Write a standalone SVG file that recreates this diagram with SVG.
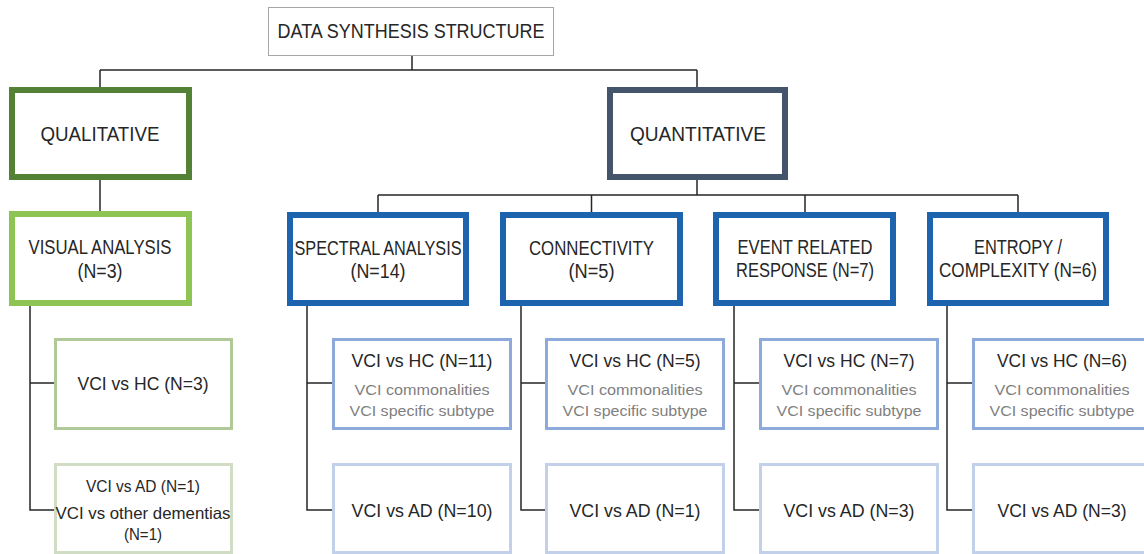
<svg xmlns="http://www.w3.org/2000/svg" width="1144" height="554" viewBox="0 0 1144 554">
<style>
text{font-family:"Liberation Sans",Arial,sans-serif;fill:#262626;text-anchor:middle}
.t1{font-size:20px}
.t2{font-size:18px}
.t3{font-size:15px;fill:#7f7f7f}
.t4{font-size:16.5px}
.con{fill:none;stroke:#262626;stroke-width:1.5}
rect{fill:#fff}
.top{stroke:#a6a6a6;stroke-width:1}
.qual{stroke:#538135;stroke-width:6}
.quant{stroke:#44546a;stroke-width:6}
.vis{stroke:#8dc453;stroke-width:6}
.blue{stroke:#1d63ad;stroke-width:6}
.ghc{stroke:#b0c998;stroke-width:3}
.gad{stroke:#d0dcc4;stroke-width:3}
.bhc{stroke:#8eaadb;stroke-width:3}
.bad{stroke:#c2d0e9;stroke-width:3}
</style>
<g id="connectors">
<path class="con" d="M412 55V70M100 70H697M100 70V87M697 70V87"/>
<path class="con" d="M100 180V211"/>
<path class="con" d="M697 180V195M378 195H1018M378 195V212M591.5 195V212M805 195V212M1018 195V212"/>
<path class="con" d="M30 306V510H54M30 383H54"/>
<path class="con" d="M307 306V510H332M307 383H332"/>
<path class="con" d="M521 306V510H545M521 383H545"/>
<path class="con" d="M734 306V510H759M734 383H759"/>
<path class="con" d="M947 306V510H972M947 383H972"/>
</g>
<g id="title"><rect class="top" x="268.5" y="7.5" width="285" height="48"/><text class="t1" x="411" y="38" textLength="267" lengthAdjust="spacingAndGlyphs">DATA SYNTHESIS STRUCTURE</text></g>
<g id="qualitative"><rect class="qual" x="12" y="90" width="177" height="87"/><text class="t1" x="100" y="141" textLength="119" lengthAdjust="spacingAndGlyphs">QUALITATIVE</text></g>
<g id="quantitative"><rect class="quant" x="610" y="90" width="175" height="87"/><text class="t1" x="698" y="141" textLength="136" lengthAdjust="spacingAndGlyphs">QUANTITATIVE</text></g>
<g id="visual"><rect class="vis" x="12" y="214" width="177" height="89"/><text class="t1" x="100" y="254" textLength="143" lengthAdjust="spacingAndGlyphs">VISUAL ANALYSIS</text><text class="t1" x="100" y="278" textLength="45" lengthAdjust="spacingAndGlyphs">(N=3)</text></g>
<g id="spectral"><rect class="blue" x="290" y="215" width="176" height="88"/><text class="t1" x="378" y="255" textLength="167" lengthAdjust="spacingAndGlyphs">SPECTRAL ANALYSIS</text><text class="t1" x="378" y="278" textLength="55" lengthAdjust="spacingAndGlyphs">(N=14)</text></g>
<g id="connectivity"><rect class="blue" x="503" y="215" width="177" height="88"/><text class="t1" x="591.5" y="255" textLength="125" lengthAdjust="spacingAndGlyphs">CONNECTIVITY</text><text class="t1" x="591.5" y="278" textLength="46" lengthAdjust="spacingAndGlyphs">(N=5)</text></g>
<g id="event"><rect class="blue" x="716" y="215" width="177" height="88"/><text class="t1" x="805" y="254" textLength="135" lengthAdjust="spacingAndGlyphs">EVENT RELATED</text><text class="t1" x="805" y="277" textLength="138" lengthAdjust="spacingAndGlyphs">RESPONSE (N=7)</text></g>
<g id="entropy"><rect class="blue" x="930" y="215" width="176" height="88"/><text class="t1" x="1018" y="254" textLength="88" lengthAdjust="spacingAndGlyphs">ENTROPY /</text><text class="t1" x="1018" y="277" textLength="158" lengthAdjust="spacingAndGlyphs">COMPLEXITY (N=6)</text></g>
<g id="vis-hc"><rect class="ghc" x="55.5" y="339.5" width="176" height="89"/><text class="t2" x="143" y="390" textLength="131" lengthAdjust="spacingAndGlyphs">VCI vs HC (N=3)</text></g>
<g id="vis-ad"><rect class="gad" x="55.5" y="464.5" width="176" height="88"/><text class="t4" x="143" y="492" textLength="114" lengthAdjust="spacingAndGlyphs">VCI vs AD (N=1)</text><text class="t4" x="143" y="519" textLength="175" lengthAdjust="spacingAndGlyphs">VCI vs other dementias</text><text class="t4" x="143" y="540" textLength="38" lengthAdjust="spacingAndGlyphs">(N=1)</text></g>
<g id="spec-hc"><rect class="bhc" x="333.5" y="339.5" width="177" height="89"/><text class="t2" x="422" y="367" textLength="141" lengthAdjust="spacingAndGlyphs">VCI vs HC (N=11)</text><text class="t3" x="422" y="395" textLength="135" lengthAdjust="spacingAndGlyphs">VCI commonalities</text><text class="t3" x="422" y="416" textLength="145" lengthAdjust="spacingAndGlyphs">VCI specific subtype</text></g>
<g id="spec-ad"><rect class="bad" x="333.5" y="464.5" width="177" height="88"/><text class="t2" x="422" y="517" textLength="141" lengthAdjust="spacingAndGlyphs">VCI vs AD (N=10)</text></g>
<g id="conn-hc"><rect class="bhc" x="546.5" y="339.5" width="177" height="89"/><text class="t2" x="635" y="367" textLength="131" lengthAdjust="spacingAndGlyphs">VCI vs HC (N=5)</text><text class="t3" x="635" y="395" textLength="135" lengthAdjust="spacingAndGlyphs">VCI commonalities</text><text class="t3" x="635" y="416" textLength="145" lengthAdjust="spacingAndGlyphs">VCI specific subtype</text></g>
<g id="conn-ad"><rect class="bad" x="546.5" y="464.5" width="177" height="88"/><text class="t2" x="635" y="517" textLength="131" lengthAdjust="spacingAndGlyphs">VCI vs AD (N=1)</text></g>
<g id="event-hc"><rect class="bhc" x="760.5" y="339.5" width="177" height="89"/><text class="t2" x="849" y="367" textLength="131" lengthAdjust="spacingAndGlyphs">VCI vs HC (N=7)</text><text class="t3" x="849" y="395" textLength="135" lengthAdjust="spacingAndGlyphs">VCI commonalities</text><text class="t3" x="849" y="416" textLength="145" lengthAdjust="spacingAndGlyphs">VCI specific subtype</text></g>
<g id="event-ad"><rect class="bad" x="760.5" y="464.5" width="177" height="88"/><text class="t2" x="849" y="517" textLength="131" lengthAdjust="spacingAndGlyphs">VCI vs AD (N=3)</text></g>
<g id="ent-hc"><rect class="bhc" x="973.5" y="339.5" width="177" height="89"/><text class="t2" x="1062" y="367" textLength="130" lengthAdjust="spacingAndGlyphs">VCI vs HC (N=6)</text><text class="t3" x="1062" y="395" textLength="135" lengthAdjust="spacingAndGlyphs">VCI commonalities</text><text class="t3" x="1062" y="416" textLength="145" lengthAdjust="spacingAndGlyphs">VCI specific subtype</text></g>
<g id="ent-ad"><rect class="bad" x="973.5" y="464.5" width="177" height="88"/><text class="t2" x="1062" y="517" textLength="129" lengthAdjust="spacingAndGlyphs">VCI vs AD (N=3)</text></g>
</svg>
